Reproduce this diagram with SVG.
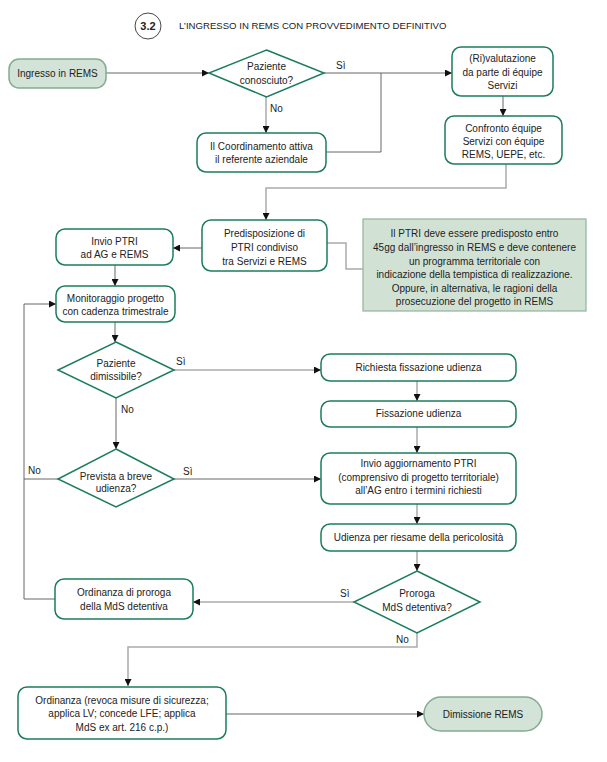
<svg xmlns="http://www.w3.org/2000/svg" width="607" height="762" viewBox="0 0 607 762">
<style>
text{font-family:"Liberation Sans",Arial,sans-serif;font-size:10px;fill:#222;text-anchor:middle}
.box{fill:#fff;stroke:#1b7d5c;stroke-width:1.5}
.term{fill:#d3e3d7;stroke:#82ad90;stroke-width:1.5}
.note{fill:#d1e2d5;stroke:#8fb59b;stroke-width:1.2}
.dk{fill:none;stroke:#555;stroke-width:0.9}
.lt{fill:none;stroke:#aaa;stroke-width:1.5}
.lbl{text-anchor:start}
</style>
<defs>
<marker id="ah" viewBox="0 0 10 10" refX="10" refY="5" markerWidth="9" markerHeight="7" markerUnits="userSpaceOnUse" orient="auto"><path d="M0,0 L10,5 L0,10 z" fill="#111"/></marker>
</defs>
<g id="title">
<circle cx="148" cy="26" r="13" fill="#fff" stroke="#333" stroke-width="0.9"/>
<text x="148" y="30" style="font-weight:bold;font-size:11px">3.2</text>
<text x="179" y="29" class="lbl" style="font-size:9.6px">L’INGRESSO IN REMS CON PROVVEDIMENTO DEFINITIVO</text>
</g>
<g id="connectors">
<path class="dk" d="M106,73 H209" marker-end="url(#ah)"/>
<path class="dk" d="M324,73 H452" marker-end="url(#ah)"/>
<path class="dk" d="M326,152 H381 V73"/>
<path class="lt" d="M266,97 V133" marker-end="url(#ah)"/>
<path class="dk" d="M503,96 V116" marker-end="url(#ah)"/>
<path class="lt" d="M506,164 V188 H266 V220" marker-end="url(#ah)"/>
<path class="dk" d="M202,248 H173" marker-end="url(#ah)"/>
<path class="lt" d="M327,243 H346 V269 H363"/>
<path class="dk" d="M115,265 V286" marker-end="url(#ah)"/>
<path class="dk" d="M115,322 V342" marker-end="url(#ah)"/>
<path class="lt" d="M174,370 H321" marker-end="url(#ah)"/>
<path class="lt" d="M417,381 V401" marker-end="url(#ah)"/>
<path class="lt" d="M417,427 V453" marker-end="url(#ah)"/>
<path class="dk" d="M116,398 V449" marker-end="url(#ah)"/>
<path class="dk" d="M174,479 H321" marker-end="url(#ah)"/>
<path class="dk" d="M58,479 H24"/>
<path class="dk" d="M55,599 H24 V304 H56" marker-end="url(#ah)"/>
<path class="lt" d="M417,504 V524" marker-end="url(#ah)"/>
<path class="lt" d="M417,551 V571" marker-end="url(#ah)"/>
<path class="lt" d="M354,602 H193" marker-end="url(#ah)"/>
<path class="lt" d="M417,633 V647 H128 V686" marker-end="url(#ah)"/>
<path class="dk" d="M226,714 H424" marker-end="url(#ah)"/>
<text x="336" y="69" class="lbl">Sì</text>
<text x="270" y="112" class="lbl">No</text>
<text x="176" y="365" class="lbl">Sì</text>
<text x="121" y="413" class="lbl">No</text>
<text x="183" y="475" class="lbl">Sì</text>
<text x="28" y="474" class="lbl">No</text>
<text x="340" y="597" class="lbl">Sì</text>
<text x="396" y="643" class="lbl">No</text>
</g>
<g id="n-ingresso">
<rect class="term" x="9" y="59" width="97" height="29" rx="10"/>
<text x="57.5" y="77">Ingresso in REMS</text>
</g>
<g id="n-conosciuto">
<polygon class="box" points="266.5,50 324,73 266.5,97 209,73"/>
<text x="266.5" y="70">Paziente</text>
<text x="266.5" y="84">conosciuto?</text>
</g>
<g id="n-coordinamento">
<rect class="box" x="197" y="133" width="129" height="39" rx="9"/>
<text x="261.5" y="150">Il Coordinamento attiva</text>
<text x="261.5" y="163">il referente aziendale</text>
</g>
<g id="n-rivalutazione">
<rect class="box" x="452" y="47" width="101" height="49" rx="9"/>
<text x="502.5" y="62">(Ri)valutazione</text>
<text x="502.5" y="76">da parte di équipe</text>
<text x="502.5" y="89">Servizi</text>
</g>
<g id="n-confronto">
<rect class="box" x="445" y="116" width="117" height="48" rx="9"/>
<text x="503.5" y="132">Confronto équipe</text>
<text x="503.5" y="145">Servizi con équipe</text>
<text x="503.5" y="158">REMS, UEPE, etc.</text>
</g>
<g id="n-predisposizione">
<rect class="box" x="202" y="220" width="125" height="51" rx="9"/>
<text x="264.5" y="237">Predisposizione di</text>
<text x="264.5" y="251">PTRI condiviso</text>
<text x="264.5" y="265">tra Servizi e REMS</text>
</g>
<g id="n-nota">
<rect class="note" x="363" y="219" width="223" height="92"/>
<text x="474.5" y="237">Il PTRI deve essere predisposto entro</text>
<text x="474.5" y="251">45gg dall’ingresso in REMS e deve contenere</text>
<text x="474.5" y="265">un programma territoriale con</text>
<text x="474.5" y="278">indicazione della tempistica di realizzazione.</text>
<text x="474.5" y="292">Oppure, in alternativa, le ragioni della</text>
<text x="474.5" y="305">prosecuzione del progetto in REMS</text>
</g>
<g id="n-invio">
<rect class="box" x="56" y="229" width="117" height="36" rx="9"/>
<text x="114.5" y="245">Invio PTRI</text>
<text x="114.5" y="258">ad AG e REMS</text>
</g>
<g id="n-monitoraggio">
<rect class="box" x="56" y="286" width="119" height="36" rx="9"/>
<text x="115.5" y="302">Monitoraggio progetto</text>
<text x="115.5" y="315">con cadenza trimestrale</text>
</g>
<g id="n-dimissibile">
<polygon class="box" points="116,342 174,370 116,398 58,370"/>
<text x="116" y="367">Paziente</text>
<text x="116" y="380">dimissibile?</text>
</g>
<g id="n-prevista">
<polygon class="box" points="116,449 174,479 116,507 58,479"/>
<text x="116" y="480">Prevista a breve</text>
<text x="116" y="492">udienza?</text>
</g>
<g id="n-richiesta">
<rect class="box" x="321" y="354" width="195" height="27" rx="9"/>
<text x="418.5" y="371">Richiesta fissazione udienza</text>
</g>
<g id="n-fissazione">
<rect class="box" x="321" y="401" width="195" height="26" rx="9"/>
<text x="418.5" y="417">Fissazione udienza</text>
</g>
<g id="n-aggiornamento">
<rect class="box" x="321" y="453" width="195" height="51" rx="9"/>
<text x="418.5" y="467">Invio aggiornamento PTRI</text>
<text x="418.5" y="481">(comprensivo di progetto territoriale)</text>
<text x="418.5" y="494">all’AG entro i termini richiesti</text>
</g>
<g id="n-udienza">
<rect class="box" x="321" y="524" width="195" height="27" rx="9"/>
<text x="418.5" y="541">Udienza per riesame della pericolosità</text>
</g>
<g id="n-proroga">
<polygon class="box" points="417,571 480,602 417,633 354,602"/>
<text x="417" y="597">Proroga</text>
<text x="417" y="611">MdS detentiva?</text>
</g>
<g id="n-ordinanza-proroga">
<rect class="box" x="55" y="579" width="138" height="40" rx="9"/>
<text x="124" y="596">Ordinanza di proroga</text>
<text x="124" y="610">della MdS detentiva</text>
</g>
<g id="n-ordinanza">
<rect class="box" x="18" y="687" width="208" height="52" rx="9"/>
<text x="122" y="704">Ordinanza (revoca misure di sicurezza;</text>
<text x="122" y="717">applica LV; concede LFE; applica</text>
<text x="122" y="731">MdS ex art. 216 c.p.)</text>
</g>
<g id="n-dimissione">
<rect class="term" x="424" y="697" width="118" height="34" rx="17"/>
<text x="483" y="718">Dimissione REMS</text>
</g>
</svg>
